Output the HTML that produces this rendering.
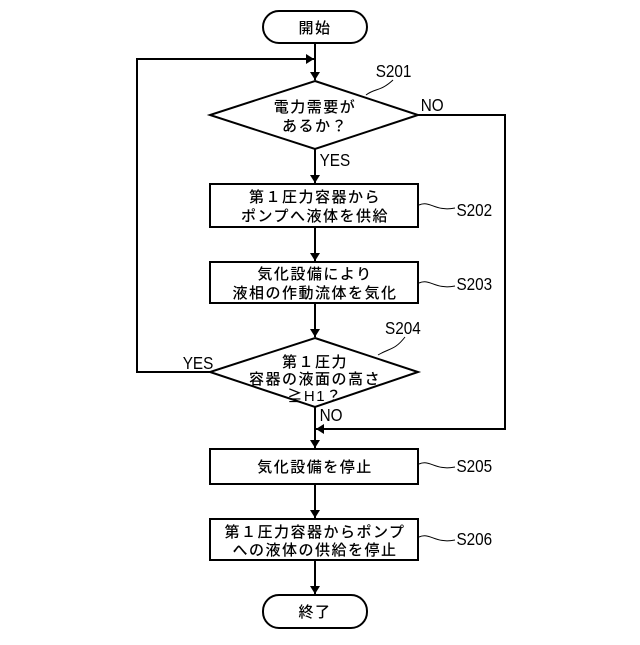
<!DOCTYPE html>
<html><head><meta charset="utf-8"><style>
html,body{margin:0;padding:0;background:#fff;}
svg text{font-family:"Liberation Sans","Noto Sans CJK JP",sans-serif;fill:#000;}
.j{font-size:15px;text-anchor:middle;letter-spacing:1.5px;font-weight:500;}
.l{font-size:18px;font-family:"Liberation Sans Narrow","Liberation Sans",sans-serif;}
</style></head><body>
<svg width="640" height="640" viewBox="0 0 640 640" xmlns="http://www.w3.org/2000/svg">
<defs><marker id="a" markerWidth="8" markerHeight="10" refX="8" refY="5" orient="auto" markerUnits="userSpaceOnUse"><path d="M0,0 L8,5 L0,10 z" fill="#000"/></marker></defs>
<g stroke="#000" stroke-width="2" fill="none">
<rect x="263" y="11" width="104" height="32" rx="16"/>
<line x1="315" y1="43" x2="315" y2="80" marker-end="url(#a)"/>
<polyline points="210,372 137,372 137,59 314,59" marker-end="url(#a)"/>
<polygon points="315,81 418,115 315,149 210,115"/>
<polyline points="418,115 505,115 505,429 316,429" marker-end="url(#a)"/>
<line x1="315" y1="149" x2="315" y2="183" marker-end="url(#a)"/>
<rect x="210" y="184" width="208" height="43"/>
<line x1="315" y1="227" x2="315" y2="261" marker-end="url(#a)"/>
<rect x="210" y="262" width="208" height="41"/>
<line x1="315" y1="303" x2="315" y2="337" marker-end="url(#a)"/>
<polygon points="315,338 418,372 315,407 210,372"/>
<line x1="315" y1="407" x2="315" y2="448" marker-end="url(#a)"/>
<rect x="210" y="449" width="208" height="35"/>
<line x1="315" y1="484" x2="315" y2="518" marker-end="url(#a)"/>
<rect x="210" y="519" width="208" height="41"/>
<line x1="315" y1="560" x2="315" y2="594" marker-end="url(#a)"/>
<rect x="263" y="595" width="104" height="33" rx="16"/>
</g>
<g stroke="#000" stroke-width="1" fill="none">
<path d="M366,95 C375,88 380,92 393,80"/>
<path d="M419,205 C430,200 435,212 455,208"/>
<path d="M419,283 C430,278 435,290 455,286"/>
<path d="M378,355 C390,348 395,350 405,337"/>
<path d="M419,464 C430,459 435,471 455,467"/>
<path d="M419,537 C430,532 435,544 455,540"/>
</g>
<text class="j" x="315" y="33">開始</text>
<text class="j" x="315" y="112">電力需要が</text>
<text class="j" x="315" y="131">あるか？</text>
<text class="j" x="315" y="202">第１圧力容器から</text>
<text class="j" x="315" y="221">ポンプへ液体を供給</text>
<text class="j" x="315" y="279">気化設備により</text>
<text class="j" x="315" y="298">液相の作動流体を気化</text>
<text class="j" x="315" y="367">第１圧力</text>
<text class="j" x="315" y="384">容器の液面の高さ</text>
<text class="j" x="315" y="401">≧H1？</text>
<text class="j" x="315" y="472">気化設備を停止</text>
<text class="j" x="315" y="537">第１圧力容器からポンプ</text>
<text class="j" x="315" y="555">への液体の供給を停止</text>
<text class="j" x="315" y="617">終了</text>
<g transform="scale(0.85,1)">
<text class="l" x="442" y="77">S201</text>
<text class="l" x="495" y="111">NO</text>
<text class="l" x="376" y="166">YES</text>
<text class="l" x="537" y="216">S202</text>
<text class="l" x="537" y="290">S203</text>
<text class="l" x="453" y="334">S204</text>
<text class="l" x="215" y="369">YES</text>
<text class="l" x="376" y="421">NO</text>
<text class="l" x="537" y="472">S205</text>
<text class="l" x="537" y="545">S206</text>
</g>
</svg>
</body></html>
